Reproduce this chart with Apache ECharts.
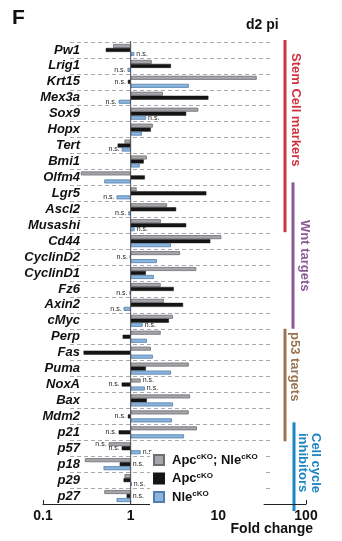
<!DOCTYPE html>
<html>
<head>
<meta charset="utf-8">
<script src="https://cdn.jsdelivr.net/npm/echarts@6/dist/echarts.min.js"></script>
<style>
  html, body { margin: 0; padding: 0; background: #fff; }
  #chart { width: 342px; height: 541px; }
</style>
</head>
<body>
<div id="chart"></div>
<script>
// Genes, top to bottom
const genes = ['Pw1', 'Lrig1', 'Krt15', 'Mex3a', 'Sox9', 'Hopx', 'Tert', 'Bmi1', 'Olfm4',
  'Lgr5', 'Ascl2', 'Musashi', 'Cd44', 'CyclinD2', 'CyclinD1', 'Fz6', 'Axin2', 'cMyc',
  'Perp', 'Fas', 'Puma', 'NoxA', 'Bax', 'Mdm2', 'p21', 'p57', 'p18', 'p29', 'p27'];

// Fold change vs control, d2 pi
const foldApcNle = [0.63, 1.74, 27.4, 2.33, 5.9, 1.79, 0.85, 1.53, 0.27,
  1.17, 2.6, 2.21, 10.8, 3.66, 5.6, 2.2, 2.4, 3.04,
  2.2, 1.70, 4.6, 1.30, 4.77, 4.6, 5.7, 0.56, 0.30, 0.85, 0.50];
const foldApc = [0.52, 2.88, 0.93, 7.7, 4.3, 1.70, 0.71, 1.41, 1.45,
  7.3, 3.3, 4.3, 8.1, 0.98, 1.49, 3.1, 3.96, 2.73,
  0.81, 0.29, 1.49, 0.79, 1.53, 0.93, 0.73, 0.79, 0.75, 0.83, 0.90];
const foldNle = [1.10, 0.92, 4.6, 0.73, 1.50, 1.34, 0.79, 1.27, 0.50,
  0.69, 0.94, 1.11, 2.88, 1.99, 1.84, 0.97, 0.83, 1.37,
  1.53, 1.79, 2.88, 1.45, 3.04, 2.96, 4.06, 1.30, 0.49, 1.03, 0.69];

// Not significant (n.s.) flags
const nsApcNle = genes.map(g => ['NoxA', 'p57'].includes(g));
const nsApc = genes.map(g => ['Krt15', 'CyclinD2', 'NoxA', 'Mdm2', 'p21', 'p57', 'p18', 'p27'].includes(g));
const nsNle = genes.map(g => ['Pw1', 'Lrig1', 'Mex3a', 'Sox9', 'Tert', 'Lgr5', 'Ascl2', 'Musashi',
  'Fz6', 'Axin2', 'cMyc', 'NoxA', 'p57', 'p29'].includes(g));

const xTicks = [0.1, 1, 10, 100];

const groups = [
  { name: 'Stem Cell markers', first: 'Pw1', last: 'Musashi' },
  { name: 'Wnt targets', first: 'Lgr5', last: 'cMyc' },
  { name: 'p53 targets', first: 'Perp', last: 'p21' },
  { name: 'Cell cycle\ninhibitors', first: 'p21', last: 'p27' }
];

const seriesNames = ['Apc;Nle', 'Apc', 'Nle'];

// ---- drawing ----
const FONT = '"Liberation Sans", Arial, Helvetica, sans-serif';
const chart = echarts.init(document.getElementById('chart'), null, { renderer: 'canvas' });

// n.s. labels of these genes sit right of the baseline even when the bar points left
const nsOnRight = { Apc: ['p18', 'p27'] };

function buildData(values, ns, seriesKey) {
  return values.map((v, i) => {
    const item = { value: v };
    if (ns[i]) {
      const right = v >= 1 || (nsOnRight[seriesKey] || []).includes(genes[i]);
      item.label = {
        show: true, position: right ? 'right' : 'left', distance: 2,
        formatter: 'n.s.', fontSize: 7, color: '#222', fontFamily: FONT
      };
    }
    return item;
  });
}

const barStyles = [
  { color: '#a4a6a9', borderColor: '#6c6f72', borderWidth: 0.8 },
  { color: '#151515', borderColor: '#151515', borderWidth: 0.5 },
  { color: '#8db5dc', borderColor: '#4d7eae', borderWidth: 0.8 }
];

const GRID = { left: 43, right: 36, top: 42, bottom: 37 };

const option = {
  animation: false,
  backgroundColor: '#fff',
  grid: [
    Object.assign({}, GRID),
    // row separators
    { left: 70, right: 70, top: GRID.top, bottom: GRID.bottom }
  ],
  xAxis: [
    {
      type: 'log', gridIndex: 0, logBase: 10, min: 0.1, max: 100,
      axisLine: { show: true, lineStyle: { color: '#222', width: 1 } },
      axisTick: { show: true, inside: true, length: 4, lineStyle: { color: '#222' } },
      minorTick: { show: false },
      splitLine: { show: false },
      axisLabel: {
        margin: 5, fontSize: 14, fontWeight: 'bold', color: '#111', fontFamily: FONT,
        formatter: v => {
          const t = xTicks.find(k => Math.abs(k - v) / k < 1e-6);
          return t === undefined ? '' : String(t);
        }
      }
    },
    { type: 'value', gridIndex: 1, show: false, min: 0, max: 1 }
  ],
  yAxis: [
    {
      type: 'category', gridIndex: 0, data: genes, inverse: true,
      axisLine: { show: false }, axisTick: { show: false }, splitLine: { show: false },
      axisLabel: {
        interval: 0, align: 'right', margin: -37, fontSize: 13, fontWeight: 'bold', fontStyle: 'italic',
        color: '#111', fontFamily: FONT
      }
    },
    {
      type: 'category', gridIndex: 1, data: genes, inverse: true,
      axisLine: { show: false }, axisTick: { show: false, interval: 0 }, axisLabel: { show: false, interval: 0 },
      splitLine: { show: true, interval: 0, lineStyle: { color: '#a9a9a9', type: [4, 3], width: 1 } }
    }
  ],
  legend: {
    orient: 'vertical', left: 150, top: 451, itemWidth: 10, itemHeight: 10, itemGap: 5,
    icon: 'rect', backgroundColor: '#fff', padding: [2, 6, 2, 3],
    data: seriesNames,
    formatter: name => {
      if (name === 'Apc;Nle') return '{b|Apc}{s|cKO}{b|; Nle}{s|cKO}';
      if (name === 'Apc') return '{b|Apc}{s|cKO}';
      return '{b|Nle}{s|cKO}';
    },
    textStyle: {
      padding: [0, 0, 0, 3],
      rich: {
        b: { fontSize: 13, fontWeight: 'bold', color: '#111', fontFamily: FONT, lineHeight: 14 },
        s: { fontSize: 8, fontWeight: 'bold', color: '#111', fontFamily: FONT, verticalAlign: 'top', lineHeight: 10 }
      }
    }
  },
  series: [
    {
      name: seriesNames[0], type: 'bar', xAxisIndex: 0, yAxisIndex: 0,
      barWidth: 4, barGap: '0%', itemStyle: barStyles[0],
      data: buildData(foldApcNle, nsApcNle, 'ApcNle')
    },
    {
      name: seriesNames[1], type: 'bar', xAxisIndex: 0, yAxisIndex: 0,
      barWidth: 4, barGap: '0%', itemStyle: barStyles[1],
      data: buildData(foldApc, nsApc, 'Apc')
    },
    {
      name: seriesNames[2], type: 'bar', xAxisIndex: 0, yAxisIndex: 0,
      barWidth: 4, barGap: '0%', itemStyle: barStyles[2],
      data: buildData(foldNle, nsNle, 'Nle')
    }
  ]
};

chart.setOption(option);

// Group brackets on the right, spanning their genes' rows
const groupLook = [
  { color: '#cf3340', x: 285, textX: 296, textY: 53, ext: [-2, -1] },
  { color: '#8a5a97', x: 293, textX: 305, textY: 220, ext: [-3, 0] },
  { color: '#9a7553', x: 285, textX: 295, textY: 332, ext: [0, 1] },
  { color: '#1b84c2', x: 294, textX: 309, textY: 433, ext: [-2, 7] }
];
const yOf = g => chart.convertToPixel({ yAxisIndex: 0 }, g);
const band = yOf(genes[1]) - yOf(genes[0]);
const plotTop = yOf(genes[0]) - band / 2;
const plotBottom = yOf(genes[genes.length - 1]) + band / 2;
const xOne = chart.convertToPixel({ xAxisIndex: 0 }, 1);

const graphics = [
  // fold change = 1 reference line
  { type: 'line', z: 10, shape: { x1: xOne, y1: plotTop - 1, x2: xOne, y2: plotBottom },
    style: { stroke: '#4a4a4a', lineWidth: 1 } },
  { type: 'text', left: 12, top: 8, style: { text: 'F', font: 'bold 21px ' + FONT, fill: '#111' } },
  { type: 'text', x: 246, y: 25, style: { text: 'd2 pi', font: 'bold 14px ' + FONT, fill: '#111', textVerticalAlign: 'middle' } },
  { type: 'text', x: 313, y: 529, style: { text: 'Fold change', font: 'bold 14px ' + FONT, fill: '#111', textAlign: 'right', textVerticalAlign: 'middle' } }
];
groups.forEach((grp, i) => {
  const look = groupLook[i];
  const y1 = yOf(grp.first) - band / 2 + look.ext[0];
  const y2 = yOf(grp.last) + band / 2 + look.ext[1];
  graphics.push({
    type: 'line', shape: { x1: look.x, y1: y1, x2: look.x, y2: y2 },
    style: { stroke: look.color, lineWidth: 3 }
  });
  graphics.push({
    type: 'text', x: look.textX, y: look.textY, rotation: -Math.PI / 2,
    style: {
      text: grp.name, font: 'bold 13px ' + FONT, fill: look.color,
      textAlign: 'left', textVerticalAlign: 'middle', lineHeight: 13
    }
  });
});
chart.setOption({ graphic: graphics });
</script>
</body>
</html>
